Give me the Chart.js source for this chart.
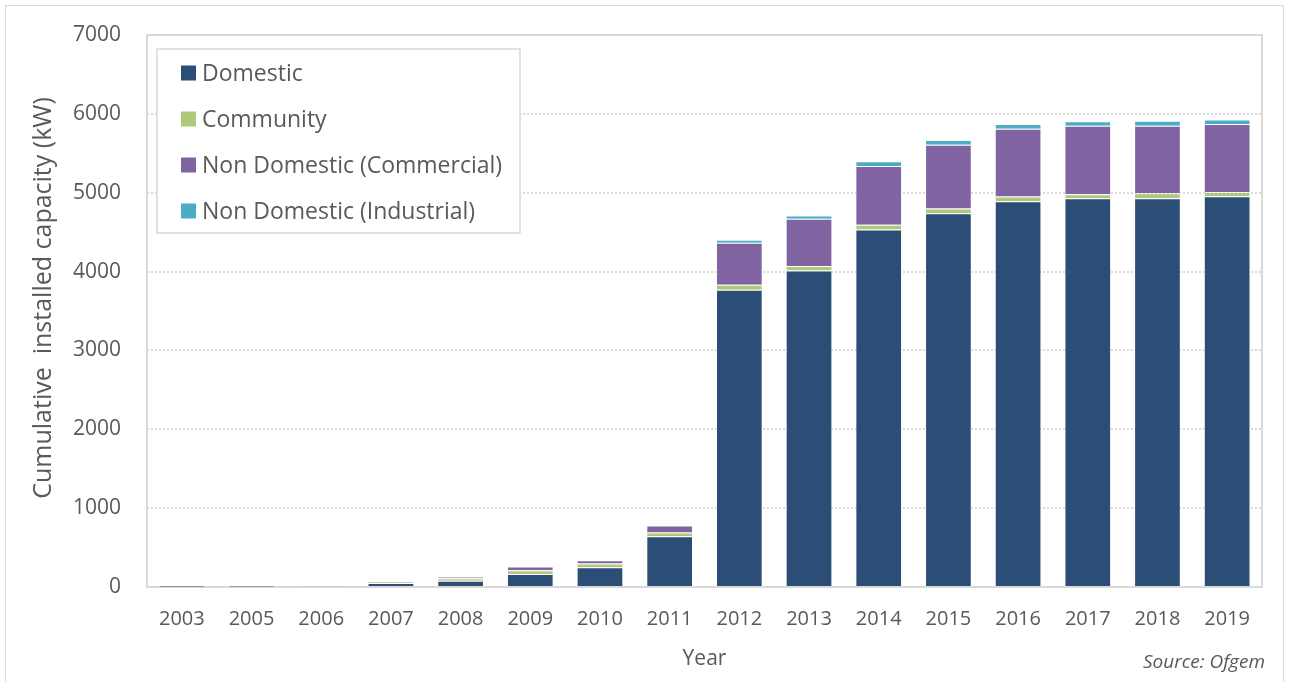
<!DOCTYPE html>
<html>
<head>
<meta charset="utf-8">
<title>Cumulative installed capacity</title>
<script src="https://cdn.jsdelivr.net/npm/chart.js@4/dist/chart.umd.min.js"></script>
<style>
  html, body { margin: 0; padding: 0; background: #ffffff; }
  #wrap { position: relative; width: 1290px; height: 682px; overflow: hidden; }
  #frame { position: absolute; left: 5px; top: 5px; width: 1279px; height: 700px;
           border: 1px solid #d9d9d9; box-sizing: border-box; pointer-events: none; }
  canvas { position: absolute; left: 0; top: 0; }
</style>
</head>
<body>
<div id="wrap">
  <canvas id="chart" width="1290" height="682"></canvas>
  <div id="frame"></div>
</div>
<script>
// Years shown on the category axis
const years = ['2003', '2005', '2006', '2007', '2008', '2009', '2010', '2011',
               '2012', '2013', '2014', '2015', '2016', '2017', '2018', '2019'];

// Cumulative installed capacity by sector (kW)
const domestic   = [1, 3, 8, 50, 80, 165, 250, 645, 3770, 4015, 4535, 4740, 4892, 4930, 4930, 4955];
const community  = [0, 0, 10, 22, 30, 47, 47, 47, 62, 55, 60, 60, 60, 51, 64, 55];
const commercial = [0, 0, 0, 3, 20, 48, 43, 88, 535, 600, 745, 808, 859, 868, 855, 860];
const industrial = [0, 0, 0, 0, 0, 0, 0, 0, 38, 40, 60, 59, 59, 56, 64, 60];

// Value-axis ticks
const yTicks = [0, 1000, 2000, 3000, 4000, 5000, 6000, 7000];

const seriesNames  = ['Domestic', 'Community', 'Non Domestic (Commercial)', 'Non Domestic (Industrial)'];
const seriesColors = ['#2c4d75', '#afc97a', '#8064a2', '#4bacc6'];
const seriesValues = [domestic, community, commercial, industrial];

const yTitle = 'Cumulative  installed capacity (kW)';

const TEXT = '#595959';
const FONT = '"Open Sans", Lato, "DejaVu Sans", sans-serif';

// Plot-area frame, value-axis title, boxed legend and source note
const decorations = {
  id: 'decorations',
  beforeDatasetsDraw(chart) {
    const { ctx, chartArea: a } = chart;
    ctx.save();
    ctx.strokeStyle = '#d9d9d9';
    ctx.lineWidth = 2;
    ctx.strokeRect(a.left, a.top, a.right - a.left, a.bottom - a.top);
    ctx.restore();
  },
  afterDatasetsDraw(chart) {
    const { ctx, chartArea: a } = chart;
    ctx.save();
    // rotated value-axis title
    ctx.save();
    ctx.translate(44, a.top + 263);
    ctx.rotate(-Math.PI / 2);
    ctx.font = '25px ' + FONT;
    ctx.fillStyle = TEXT;
    ctx.textAlign = 'center';
    ctx.textBaseline = 'middle';
    ctx.fillText(yTitle, 0, 0);
    ctx.restore();
    // legend box
    const bx = a.left + 10, by = a.top + 14, bw = 363, bh = 184;
    ctx.fillStyle = '#ffffff';
    ctx.fillRect(bx, by, bw, bh);
    ctx.strokeStyle = '#d9d9d9';
    ctx.lineWidth = 1.5;
    ctx.strokeRect(bx, by, bw, bh);
    ctx.font = '23px ' + FONT;
    ctx.textBaseline = 'middle';
    ctx.textAlign = 'left';
    chart.data.datasets.forEach((ds, i) => {
      const cy = by + 24 + i * 46;
      ctx.fillStyle = ds.backgroundColor;
      ctx.fillRect(bx + 24, cy - 7.5, 15, 15);
      ctx.fillStyle = TEXT;
      ctx.fillText(ds.label, bx + 45, cy + 1);
    });
    // source note
    ctx.font = 'italic 19px ' + FONT;
    ctx.textAlign = 'right';
    ctx.fillStyle = TEXT;
    ctx.fillText('Source: Ofgem', 1265, 663);
    ctx.restore();
  }
};

new Chart(document.getElementById('chart'), {
  type: 'bar',
  data: {
    labels: years,
    datasets: seriesNames.map((name, i) => ({
      label: name,
      data: seriesValues[i],
      backgroundColor: seriesColors[i],
      borderColor: 'rgba(255,255,255,0.3)',
      borderWidth: 1,
      categoryPercentage: 0.67,
      barPercentage: 1
    }))
  },
  plugins: [decorations],
  options: {
    responsive: false,
    animation: false,
    devicePixelRatio: 1,
    layout: { padding: { top: 35, right: 28, bottom: 0, left: 0 } },
    plugins: {
      legend: { display: false },
      tooltip: { enabled: false }
    },
    scales: {
      x: {
        stacked: true,
        grid: { display: false, drawTicks: false },
        border: { display: false },
        ticks: { color: TEXT, font: { family: FONT, size: 20 }, padding: 20, maxRotation: 0, autoSkip: false },
        title: { display: true, text: 'Year', color: TEXT, font: { family: FONT, size: 21 },
                 padding: { top: 0, bottom: 10 } },
        afterFit(scale) { scale.height = 95; }
      },
      y: {
        stacked: true,
        min: 0,
        max: 7000,
        afterBuildTicks(scale) { scale.ticks = yTicks.map(v => ({ value: v })); },
        grid: { color: '#d9d9d9', lineWidth: 2, drawTicks: true, tickLength: 6, tickColor: 'rgba(0,0,0,0)' },
        border: { display: false, dash: [2, 2] },
        ticks: { color: TEXT, font: { family: FONT, size: 21 }, padding: 20,
                 callback: (v) => String(v) },
        afterFit(scale) { scale.width = 147; }
      }
    }
  }
});
</script>
</body>
</html>
